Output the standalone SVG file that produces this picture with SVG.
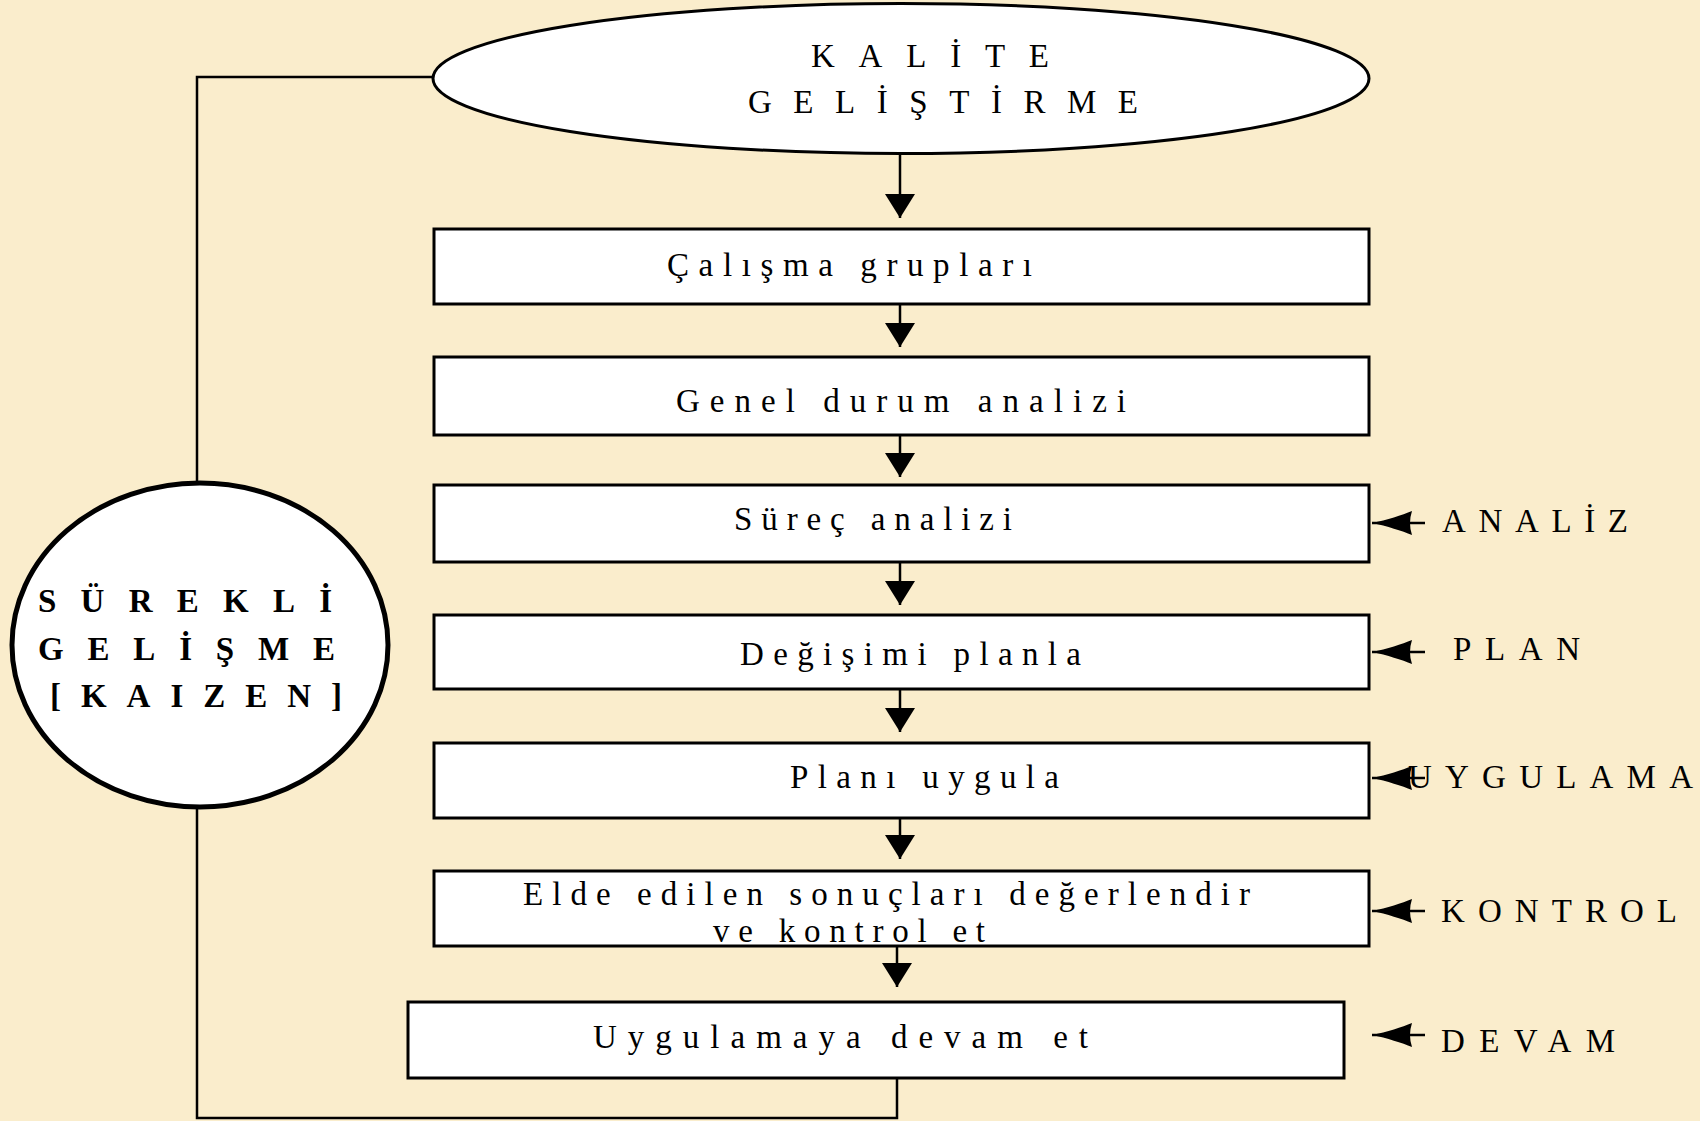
<svg xmlns="http://www.w3.org/2000/svg" width="1700" height="1121" viewBox="0 0 1700 1121">
<style>
.box{fill:#fff;stroke:#000;stroke-width:3}
.conn{fill:none;stroke:#000;stroke-width:2.5}
.t{font-family:"Liberation Serif","Times New Roman",serif;font-size:33px;fill:#000}
.b{font-family:"Liberation Serif","Times New Roman",serif;font-size:33px;font-weight:bold;fill:#000}
</style>
<defs>
<marker id="av" markerUnits="userSpaceOnUse" markerWidth="24" markerHeight="30" refX="24" refY="15" orient="auto" viewBox="0 0 24 30">
<path d="M0,0 L24,15 L0,30 Z" fill="#000"/>
</marker>
<marker id="as" markerUnits="userSpaceOnUse" markerWidth="40" markerHeight="24" refX="40" refY="12" orient="auto" viewBox="0 0 40 24">
<path d="M0,0 C10,4 25,9 40,12 C25,15 10,20 0,24 Q4,12 0,0 Z" fill="#000"/>
</marker>
</defs>
<rect x="0" y="0" width="1700" height="1121" fill="#FAEDCC"/>
<g id="connectors">
<path class="conn" d="M900,154 V218" marker-end="url(#av)"/>
<path class="conn" d="M900,304 V347" marker-end="url(#av)"/>
<path class="conn" d="M900,435 V477" marker-end="url(#av)"/>
<path class="conn" d="M900,562 V605" marker-end="url(#av)"/>
<path class="conn" d="M900,689 V732" marker-end="url(#av)"/>
<path class="conn" d="M900,818 V859" marker-end="url(#av)"/>
<path class="conn" d="M897,946 V987" marker-end="url(#av)"/>
<path class="conn" d="M897,1078 V1118 H197 V808"/>
<path class="conn" d="M197,482 V77 H434"/>
<path class="conn" d="M1425,523 H1372" marker-end="url(#as)"/>
<path class="conn" d="M1425,652 H1372" marker-end="url(#as)"/>
<path class="conn" d="M1425,778 H1372" marker-end="url(#as)"/>
<path class="conn" d="M1425,911 H1372" marker-end="url(#as)"/>
<path class="conn" d="M1425,1035 H1372" marker-end="url(#as)"/>
</g>
<g id="kalite">
<ellipse cx="901" cy="78.5" rx="468" ry="75" fill="#fff" stroke="#000" stroke-width="3"/>
<text class="t" x="811" y="67" textLength="238" lengthAdjust="spacing">KALİTE</text>
<text class="t" x="748" y="113" textLength="390" lengthAdjust="spacing">GELİŞTİRME</text>
</g>
<g id="kaizen">
<ellipse cx="200" cy="645" rx="188" ry="162" fill="#fff" stroke="#000" stroke-width="5"/>
<text class="b" x="38" y="612" textLength="294" lengthAdjust="spacing">SÜREKLİ</text>
<text class="b" x="38" y="660" textLength="297" lengthAdjust="spacing">GELİŞME</text>
<text class="b" x="50" y="707" textLength="292" lengthAdjust="spacing">[KAIZEN]</text>
</g>
<g id="n1"><rect class="box" x="434" y="229" width="935" height="75"/>
<text class="t" x="667" y="276" textLength="365" lengthAdjust="spacing">Çalışma grupları</text></g>
<g id="n2"><rect class="box" x="434" y="357" width="935" height="78"/>
<text class="t" x="676" y="412" textLength="450" lengthAdjust="spacing">Genel durum  analizi</text></g>
<g id="n3"><rect class="box" x="434" y="485" width="935" height="77"/>
<text class="t" x="734" y="530" textLength="278" lengthAdjust="spacing">Süreç analizi</text></g>
<g id="n4"><rect class="box" x="434" y="615" width="935" height="74"/>
<text class="t" x="740" y="665" textLength="341" lengthAdjust="spacing">Değişimi planla</text></g>
<g id="n5"><rect class="box" x="434" y="743" width="935" height="75"/>
<text class="t" x="790" y="788" textLength="269" lengthAdjust="spacing">Planı uygula</text></g>
<g id="n6"><rect class="box" x="434" y="871" width="935" height="75"/>
<text class="t" x="523" y="905" textLength="727" lengthAdjust="spacing">Elde edilen sonuçları değerlendir</text>
<text class="t" x="713" y="942" textLength="272" lengthAdjust="spacing">ve kontrol et</text></g>
<g id="n7"><rect class="box" x="408" y="1002" width="936" height="76"/>
<text class="t" x="593" y="1048" textLength="495" lengthAdjust="spacing">Uygulamaya devam  et</text></g>
<g id="labels">
<text class="t" x="1442" y="532" textLength="186" lengthAdjust="spacing">ANALİZ</text>
<text class="t" x="1453" y="660" textLength="127" lengthAdjust="spacing">PLAN</text>
<text class="t" x="1408" y="788" textLength="285" lengthAdjust="spacing">UYGULAMA</text>
<text class="t" x="1441" y="922" textLength="236" lengthAdjust="spacing">KONTROL</text>
<text class="t" x="1441" y="1052" textLength="174" lengthAdjust="spacing">DEVAM</text>
</g>
</svg>
